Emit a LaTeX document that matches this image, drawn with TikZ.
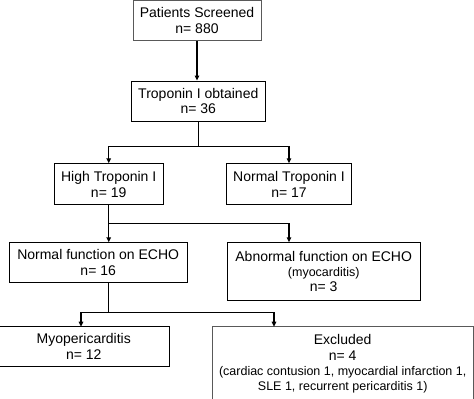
\documentclass[tikz,border=0pt]{standalone}
\usepackage{fontspec}
\setmainfont{Liberation Sans}
\usetikzlibrary{arrows.meta}
\tikzset{
  box/.style={draw=black, line width=0.9pt, fill=white, inner sep=0pt, align=center,
    font=\fontsize{14}{15.8}\selectfont},
  lbox/.style={box, draw=black!65},
  conn/.style={line width=1.3pt, black},
  arr/.style={conn, -{Triangle[length=5pt,width=4.5pt]}},
}
\newcommand{\smalltxt}{\fontsize{12.5}{14.6}\selectfont}
\begin{document}
\begin{tikzpicture}[x=1pt,y=-1pt]
\clip (0,0) rectangle (474,399);
\fill[white] (0,0) rectangle (474,399);
\node[lbox, minimum width=128pt, minimum height=40.2pt] (b1) at (197,20.6) {Patients Screened\\n= 880};
\node[box, minimum width=134.7pt, minimum height=40pt] (b2) at (198.3,101) {Troponin I obtained\\n= 36};
\node[box, minimum width=108.7pt, minimum height=41pt] (b3) at (108.7,184.2) {High Troponin I\\n= 19};
\node[box, minimum width=125.4pt, minimum height=41pt] (b4) at (289,184.2) {Normal Troponin I\\n= 17};
\node[box, minimum width=177.7pt, minimum height=40pt] (b5) at (98.2,262.7) {Normal function on ECHO\\n= 16};
\node[box, minimum width=192.7pt, minimum height=57.6pt] (b6) at (323.7,271.5) {Abnormal function on ECHO\\[-1pt]{\smalltxt (myocarditis)}\\n= 3};
\node[box, minimum width=171.7pt, minimum height=40pt] (b7) at (83.8,346.7) {Myopericarditis\\n= 12};
\node[lbox, minimum width=261.3pt, minimum height=73.3pt] (b8) at (342.7,363.4) {Excluded\\n= 4\\{\smalltxt (cardiac contusion 1, myocardial infarction 1,}\\[-1.5pt]{\smalltxt SLE 1, recurrent pericarditis 1)}};
\coordinate (j1) at (197,146.7);
\coordinate (j2) at (109,223.3);
\coordinate (j3) at (109,312.3);
\coordinate (a7) at (81,326.7);
\coordinate (a8) at (274,326.7);
\draw[arr] (b1.south) -- (b1.south |- b2.north);
\draw[arr] (b2.south) -- (b2.south |- j1) -| (b3.north);
\draw[arr] (b2.south |- j1) -| (b4.north);
\draw[arr] (b3.south) -- (b3.south |- b5.north);
\draw[arr] (b3.south |- j2) -| (b4.south |- b6.north);
\draw[conn] (b3.south |- b5.south) -- (b3.south |- j3);
\draw[arr] (b3.south |- j3) -| (a7);
\draw[arr] (b3.south |- j3) -| (a8);
\end{tikzpicture}
\end{document}
